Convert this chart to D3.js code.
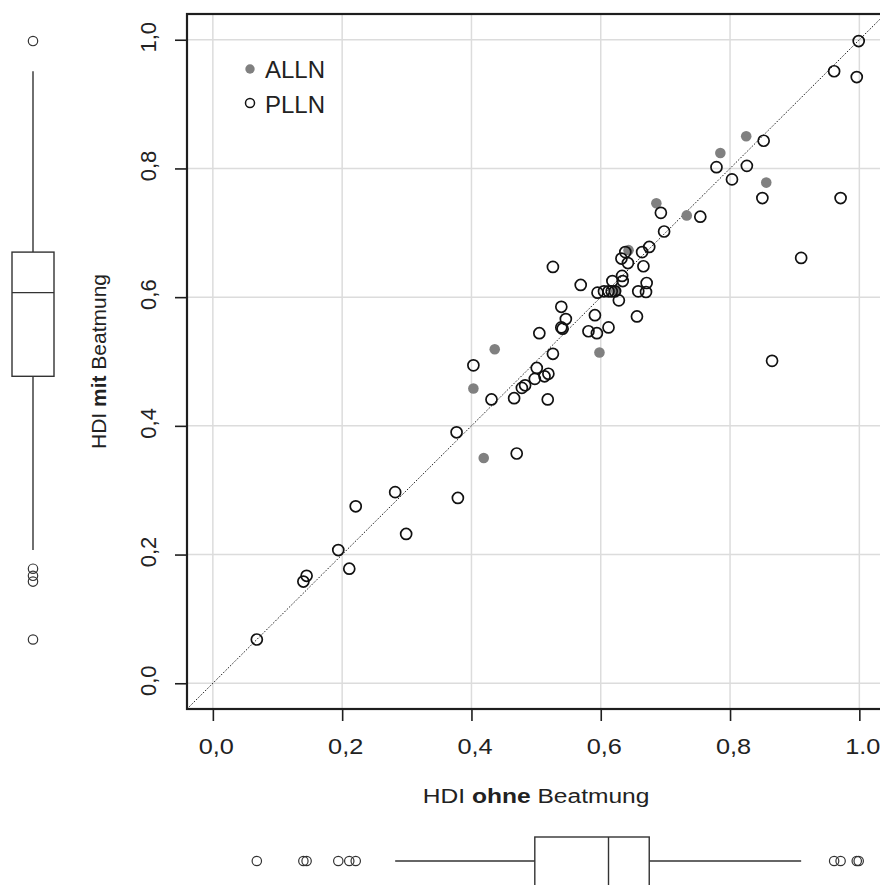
<!DOCTYPE html>
<html>
<head>
<meta charset="utf-8">
<script src="https://cdn.jsdelivr.net/npm/d3@7"></script>
<style>
  html, body { margin: 0; padding: 0; background: #fff; }
  svg { display: block; font-family: "Liberation Sans", Arial, sans-serif; }
</style>
</head>
<body>
<svg id="chart" width="880" height="885"></svg>
<script>
// HDI ohne / mit Beatmung — ALLN (gefüllt) und PLLN (offen)
const allnX = [0.419, 0.403, 0.436, 0.598, 0.624, 0.643, 0.686, 0.733, 0.785, 0.825, 0.856];
const allnY = [0.350, 0.458, 0.519, 0.514, 0.610, 0.673, 0.746, 0.727, 0.824, 0.850, 0.778];

const pllnX = [0.068, 0.140, 0.145, 0.194, 0.211, 0.221, 0.282, 0.299, 0.377, 0.379,
               0.470, 0.403, 0.431, 0.466, 0.478, 0.483, 0.498, 0.501, 0.513, 0.519,
               0.518, 0.505, 0.526, 0.526, 0.539, 0.546, 0.539, 0.541, 0.569, 0.581,
               0.591, 0.594, 0.595, 0.605, 0.612, 0.617, 0.622, 0.612, 0.618, 0.633,
               0.634, 0.628, 0.632, 0.638, 0.642, 0.664, 0.675, 0.666, 0.671, 0.658,
               0.670, 0.656, 0.693, 0.698, 0.754, 0.779, 0.826, 0.803, 0.852, 0.850,
               0.971, 0.910, 0.865, 0.961, 0.996, 0.999];
const pllnY = [0.068, 0.158, 0.167, 0.207, 0.178, 0.275, 0.297, 0.232, 0.390, 0.288,
               0.357, 0.494, 0.441, 0.443, 0.459, 0.463, 0.473, 0.490, 0.477, 0.481,
               0.441, 0.544, 0.512, 0.647, 0.585, 0.566, 0.553, 0.551, 0.619, 0.547,
               0.572, 0.544, 0.607, 0.609, 0.609, 0.609, 0.609, 0.553, 0.625, 0.633,
               0.625, 0.595, 0.660, 0.670, 0.653, 0.670, 0.678, 0.648, 0.622, 0.609,
               0.608, 0.570, 0.731, 0.702, 0.725, 0.802, 0.804, 0.783, 0.843, 0.754,
               0.754, 0.661, 0.501, 0.951, 0.942, 0.998];

const tickValues = [0, 0.2, 0.4, 0.6, 0.8, 1.0];
const xTickLabels = ["0,0", "0,2", "0,4", "0,6", "0,8", "1.0"];
const yTickLabels = ["0,0", "0,2", "0,4", "0,6", "0,8", "1,0"];
const legendLabels = ["ALLN", "PLLN"];

(function draw() {
  const svg = d3.select("#chart");
  const ink = "#1e1e1e";
  const grey = "#808080";
  const textColor = "#222";

  // Plot region with 4% padding around [0, 1]
  const pLeft = 187, pTop = 14, pBottom = 709, pRight = 885.2;
  const x = d3.scaleLinear().domain([-0.04, 1.04]).range([pLeft, pRight]);
  const y = d3.scaleLinear().domain([-0.04, 1.04]).range([pBottom, pTop]);

  svg.append("clipPath").attr("id", "plotclip")
    .append("rect").attr("x", pLeft).attr("y", pTop)
    .attr("width", pRight - pLeft).attr("height", pBottom - pTop);

  const plot = svg.append("g").attr("clip-path", "url(#plotclip)");

  // Grid
  plot.append("g").selectAll("line").data(tickValues).join("line")
    .attr("x1", d => x(d)).attr("x2", d => x(d))
    .attr("y1", pTop).attr("y2", pBottom)
    .attr("stroke", "#dcdcdc").attr("stroke-width", 1.5);
  plot.append("g").selectAll("line").data(tickValues).join("line")
    .attr("y1", d => y(d)).attr("y2", d => y(d))
    .attr("x1", pLeft).attr("x2", pRight)
    .attr("stroke", "#dcdcdc").attr("stroke-width", 1.5);

  // Identity line
  plot.append("line")
    .attr("x1", x(-0.04)).attr("y1", y(-0.04))
    .attr("x2", x(1.04)).attr("y2", y(1.04))
    .attr("stroke", "#222").attr("stroke-width", 1)
    .attr("stroke-dasharray", "1.6,1.6");

  // Points
  const allnPts = allnX.map((v, i) => [v, allnY[i]]);
  const pllnPts = pllnX.map((v, i) => [v, pllnY[i]]);

  plot.append("g").selectAll("circle").data(allnPts).join("circle")
    .attr("cx", d => x(d[0])).attr("cy", d => y(d[1])).attr("r", 5.3)
    .attr("fill", grey);

  plot.append("g").selectAll("circle").data(pllnPts).join("circle")
    .attr("cx", d => x(d[0])).attr("cy", d => y(d[1])).attr("r", 5.5)
    .attr("fill", "none").attr("stroke", "#111").attr("stroke-width", 1.7);

  // Frame
  svg.append("rect").attr("x", pLeft).attr("y", pTop)
    .attr("width", pRight - pLeft).attr("height", pBottom - pTop)
    .attr("fill", "none").attr("stroke", ink).attr("stroke-width", 2.2);

  // Axes
  const xAxis = d3.axisBottom(x).tickValues(tickValues).tickSize(12)
    .tickFormat((d, i) => xTickLabels[i]);
  const gx = svg.append("g").attr("transform", `translate(0,${pBottom})`).call(xAxis);
  gx.select(".domain").remove();
  gx.selectAll(".tick line").attr("stroke", ink).attr("stroke-width", 1.6);
  gx.selectAll(".tick text").attr("y", 45).attr("dy", null)
    .attr("transform", "translate(3,0) scale(1.15,1)")
    .attr("font-size", 22).attr("fill", textColor)
    .attr("font-family", "'Liberation Sans', Arial, sans-serif");

  const yAxis = d3.axisLeft(y).tickValues(tickValues).tickSize(12)
    .tickFormat((d, i) => yTickLabels[i]);
  const gy = svg.append("g").attr("transform", `translate(${pLeft},0)`).call(yAxis);
  gy.select(".domain").remove();
  gy.selectAll(".tick line").attr("stroke", ink).attr("stroke-width", 1.6);
  gy.selectAll(".tick text")
    .attr("x", null).attr("dy", null)
    .attr("transform", "translate(-31,-3) rotate(-90)")
    .attr("text-anchor", "middle")
    .attr("font-size", 22).attr("fill", textColor)
    .attr("font-family", "'Liberation Sans', Arial, sans-serif");

  // Axis titles
  const xt = svg.append("text")
    .attr("transform", `translate(${x(0.5)},803) scale(1.17,1)`)
    .attr("text-anchor", "middle").attr("font-size", 21).attr("fill", textColor);
  xt.append("tspan").text("HDI ");
  xt.append("tspan").attr("font-weight", "bold").text("ohne");
  xt.append("tspan").text(" Beatmung");

  const yt = svg.append("text")
    .attr("transform", `translate(106,${(pTop + pBottom) / 2}) rotate(-90)`)
    .attr("text-anchor", "middle").attr("font-size", 21).attr("fill", textColor);
  yt.append("tspan").text("HDI ");
  yt.append("tspan").attr("font-weight", "bold").text("mit");
  yt.append("tspan").text(" Beatmung");

  // Legend
  const legend = svg.append("g");
  legend.append("circle").attr("cx", 250).attr("cy", 69).attr("r", 4.7).attr("fill", grey);
  legend.append("circle").attr("cx", 250).attr("cy", 103).attr("r", 4.5)
    .attr("fill", "none").attr("stroke", "#111").attr("stroke-width", 1.5);
  legend.selectAll("text").data(legendLabels).join("text")
    .attr("x", 265).attr("y", (d, i) => 77.5 + i * 35.5)
    .attr("font-size", 24).attr("fill", textColor).text(d => d);

  // Tukey five-number summary and boxplot statistics
  function boxStats(values) {
    const s = values.slice().sort(d3.ascending);
    const n = s.length;
    const n4 = Math.floor((n + 3) / 2) / 2;
    const idx = [1, n4, (n + 1) / 2, n + 1 - n4, n];
    const f = idx.map(i => 0.5 * (s[Math.floor(i) - 1] + s[Math.ceil(i) - 1]));
    const iqr = f[3] - f[1];
    const lo = f[1] - 1.5 * iqr, hi = f[3] + 1.5 * iqr;
    const inside = s.filter(v => v >= lo && v <= hi);
    return {
      q1: f[1], med: f[2], q3: f[3],
      wLo: d3.min(inside), wHi: d3.max(inside),
      out: s.filter(v => v < lo || v > hi)
    };
  }

  const bx = boxStats(allnX.concat(pllnX));
  const by = boxStats(allnY.concat(pllnY));
  const boxStroke = "#333";

  // Boxplot of HDI mit Beatmung (left margin)
  const lb = svg.append("g");
  const lcx = 33, lhw = 21;
  lb.append("line").attr("x1", lcx).attr("x2", lcx)
    .attr("y1", y(by.wHi)).attr("y2", y(by.q3))
    .attr("stroke", boxStroke).attr("stroke-width", 1.4);
  lb.append("line").attr("x1", lcx).attr("x2", lcx)
    .attr("y1", y(by.q1)).attr("y2", y(by.wLo))
    .attr("stroke", boxStroke).attr("stroke-width", 1.4);
  lb.append("rect").attr("x", lcx - lhw).attr("width", 2 * lhw)
    .attr("y", y(by.q3)).attr("height", y(by.q1) - y(by.q3))
    .attr("fill", "none").attr("stroke", boxStroke).attr("stroke-width", 1.4);
  lb.append("line").attr("x1", lcx - lhw).attr("x2", lcx + lhw)
    .attr("y1", y(by.med)).attr("y2", y(by.med))
    .attr("stroke", boxStroke).attr("stroke-width", 1.4);
  lb.append("g").selectAll("circle").data(by.out).join("circle")
    .attr("cx", lcx).attr("cy", d => y(d)).attr("r", 4.7)
    .attr("fill", "none").attr("stroke", boxStroke).attr("stroke-width", 1.2);

  // Boxplot of HDI ohne Beatmung (bottom margin)
  const bb = svg.append("g");
  const bcy = 861, bUp = 24, bDown = 26;
  bb.append("line").attr("y1", bcy).attr("y2", bcy)
    .attr("x1", x(bx.wLo)).attr("x2", x(bx.q1))
    .attr("stroke", boxStroke).attr("stroke-width", 1.4);
  bb.append("line").attr("y1", bcy).attr("y2", bcy)
    .attr("x1", x(bx.q3)).attr("x2", x(bx.wHi))
    .attr("stroke", boxStroke).attr("stroke-width", 1.4);
  bb.append("rect").attr("y", bcy - bUp).attr("height", bUp + bDown)
    .attr("x", x(bx.q1)).attr("width", x(bx.q3) - x(bx.q1))
    .attr("fill", "none").attr("stroke", boxStroke).attr("stroke-width", 1.4);
  bb.append("line").attr("y1", bcy - bUp).attr("y2", bcy + bDown)
    .attr("x1", x(bx.med)).attr("x2", x(bx.med))
    .attr("stroke", boxStroke).attr("stroke-width", 1.4);
  bb.append("g").selectAll("circle").data(bx.out).join("circle")
    .attr("cy", bcy).attr("cx", d => x(d)).attr("r", 4.7)
    .attr("fill", "none").attr("stroke", boxStroke).attr("stroke-width", 1.2);
})();
</script>
</body>
</html>
